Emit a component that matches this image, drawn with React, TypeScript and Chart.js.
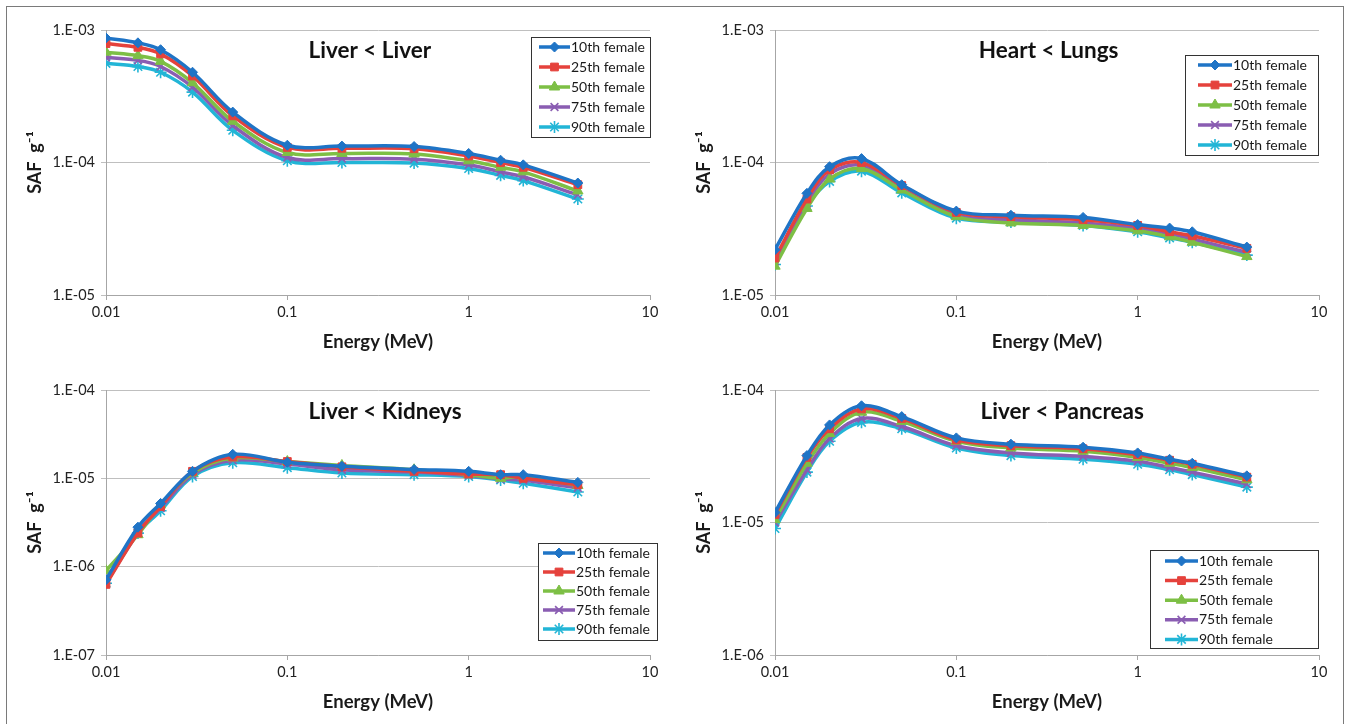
import React, { useEffect, useRef } from "react";
import { Chart, registerables } from "chart.js";
import { drawPoint } from "chart.js/helpers";

Chart.register(...registerables);

// ---------- data ----------
const energies = [0.01, 0.015, 0.02, 0.03, 0.05, 0.1, 0.2, 0.5, 1, 1.5, 2, 4];
const seriesNames = ["10th female", "25th female", "50th female", "75th female", "90th female"];
const xTickValues = [0.01, 0.1, 1, 10];
const xTickLabels = ["0.01", "0.1", "1", "10"];

// Liver < Liver
const liverLiver10 = [8.7e-4, 8.0e-4, 7.1e-4, 4.8e-4, 2.4e-4, 1.35e-4, 1.33e-4, 1.32e-4, 1.17e-4, 1.04e-4, 9.6e-5, 7.0e-5];
const liverLiver25 = [7.9e-4, 7.4e-4, 6.6e-4, 4.5e-4, 2.25e-4, 1.3e-4, 1.28e-4, 1.27e-4, 1.12e-4, 1.0e-4, 9.2e-5, 6.8e-5];
const liverLiver50 = [6.8e-4, 6.4e-4, 5.8e-4, 4.0e-4, 2.05e-4, 1.19e-4, 1.17e-4, 1.16e-4, 1.03e-4, 9.2e-5, 8.5e-5, 6.1e-5];
const liverLiver75 = [6.2e-4, 5.9e-4, 5.3e-4, 3.7e-4, 1.9e-4, 1.09e-4, 1.07e-4, 1.06e-4, 9.6e-5, 8.5e-5, 7.8e-5, 5.7e-5];
const liverLiver90 = [5.6e-4, 5.3e-4, 4.8e-4, 3.4e-4, 1.75e-4, 1.03e-4, 1.0e-4, 9.9e-5, 9.0e-5, 8.0e-5, 7.3e-5, 5.3e-5];
const liverLiverYTicks = [1e-5, 1e-4, 1e-3];
const liverLiverYLabels = ["1.E-05", "1.E-04", "1.E-03"];

// Heart < Lungs
const heartLungs10 = [2.2e-5, 5.85e-5, 9.3e-5, 1.07e-4, 6.8e-5, 4.3e-5, 4.0e-5, 3.85e-5, 3.4e-5, 3.2e-5, 3.0e-5, 2.3e-5];
const heartLungs25 = [1.9e-5, 5.3e-5, 8.8e-5, 1.0e-4, 6.7e-5, 4.2e-5, 3.9e-5, 3.7e-5, 3.35e-5, 3.0e-5, 2.8e-5, 2.25e-5];
const heartLungs50 = [1.65e-5, 4.5e-5, 7.5e-5, 9.0e-5, 6.2e-5, 3.9e-5, 3.5e-5, 3.35e-5, 3.05e-5, 2.75e-5, 2.5e-5, 1.95e-5];
const heartLungs75 = [1.8e-5, 4.9e-5, 8.2e-5, 9.5e-5, 6.3e-5, 4.0e-5, 3.7e-5, 3.5e-5, 3.2e-5, 2.9e-5, 2.65e-5, 2.1e-5];
const heartLungs90 = [1.7e-5, 4.7e-5, 7.2e-5, 8.6e-5, 5.9e-5, 3.8e-5, 3.55e-5, 3.35e-5, 3.0e-5, 2.7e-5, 2.5e-5, 2.0e-5];
const heartLungsYTicks = [1e-5, 1e-4, 1e-3];
const heartLungsYLabels = ["1.E-05", "1.E-04", "1.E-03"];

// Liver < Kidneys
const liverKidneys10 = [7.1e-7, 2.8e-6, 5.2e-6, 1.2e-5, 1.87e-5, 1.52e-5, 1.37e-5, 1.26e-5, 1.2e-5, 1.1e-5, 1.1e-5, 9.0e-6];
const liverKidneys25 = [6.3e-7, 2.4e-6, 4.8e-6, 1.2e-5, 1.75e-5, 1.55e-5, 1.35e-5, 1.2e-5, 1.12e-5, 1.1e-5, 1.0e-5, 8.5e-6];
const liverKidneys50 = [9.0e-7, 2.3e-6, 5.0e-6, 1.15e-5, 1.7e-5, 1.55e-5, 1.4e-5, 1.25e-5, 1.1e-5, 1.0e-5, 1.05e-5, 8.3e-6];
const liverKidneys75 = [7.0e-7, 2.5e-6, 4.6e-6, 1.1e-5, 1.6e-5, 1.45e-5, 1.25e-5, 1.18e-5, 1.08e-5, 9.8e-6, 9.5e-6, 7.8e-6];
const liverKidneys90 = [6.5e-7, 2.4e-6, 4.3e-6, 1.05e-5, 1.5e-5, 1.32e-5, 1.15e-5, 1.1e-5, 1.05e-5, 9.6e-6, 8.8e-6, 7.0e-6];
const liverKidneysYTicks = [1e-7, 1e-6, 1e-5, 1e-4];
const liverKidneysYLabels = ["1.E-07", "1.E-06", "1.E-05", "1.E-04"];

// Liver < Pancreas
const liverPancreas10 = [1.19e-5, 3.2e-5, 5.45e-5, 7.6e-5, 6.3e-5, 4.35e-5, 3.9e-5, 3.7e-5, 3.35e-5, 3.0e-5, 2.8e-5, 2.25e-5];
const liverPancreas25 = [1.15e-5, 3.1e-5, 5.1e-5, 7.2e-5, 6.1e-5, 4.2e-5, 3.8e-5, 3.6e-5, 3.25e-5, 2.95e-5, 2.75e-5, 2.2e-5];
const liverPancreas50 = [1.05e-5, 2.8e-5, 4.7e-5, 6.8e-5, 5.8e-5, 4.1e-5, 3.65e-5, 3.45e-5, 3.1e-5, 2.8e-5, 2.6e-5, 2.1e-5];
const liverPancreas75 = [1.0e-5, 2.5e-5, 4.3e-5, 6.1e-5, 5.3e-5, 3.8e-5, 3.35e-5, 3.15e-5, 2.9e-5, 2.6e-5, 2.4e-5, 1.95e-5];
const liverPancreas90 = [9.0e-6, 2.4e-5, 4.1e-5, 5.7e-5, 5.1e-5, 3.65e-5, 3.2e-5, 3.0e-5, 2.75e-5, 2.5e-5, 2.3e-5, 1.85e-5];
const liverPancreasYTicks = [1e-6, 1e-5, 1e-4];
const liverPancreasYLabels = ["1.E-06", "1.E-05", "1.E-04"];

// ---------- styles ----------
const FONT = "Lato, 'Open Sans', sans-serif";
const seriesStyles = [
  { color: "#1f74c6", pointStyle: "rectRot", radius: 5 },
  { color: "#e5423c", pointStyle: "rect", radius: 5.5 },
  { color: "#7dbf45", pointStyle: "triangle", radius: 6 },
  { color: "#8a5db2", pointStyle: "crossRot", radius: 5.5 },
  { color: "#22b5d6", pointStyle: "star", radius: 6 },
];

const overlayPlugin = {
  id: "overlay",
  afterDraw(chart: any, _args: any, opts: any) {
    const { ctx, chartArea } = chart;
    ctx.save();
    // title
    ctx.font = `bold 22.5px ${FONT}`;
    ctx.fillStyle = "#111";
    ctx.textAlign = "center";
    ctx.textBaseline = "middle";
    ctx.fillText(opts.title, chartArea.left + opts.titleX * chartArea.width, chartArea.top + opts.titleY);
    // legend
    const lg = opts.legend;
    ctx.fillStyle = "#fff";
    ctx.fillRect(lg.x, lg.y, lg.w, lg.h);
    ctx.strokeStyle = "#333";
    ctx.lineWidth = 1;
    ctx.strokeRect(lg.x + 0.5, lg.y + 0.5, lg.w, lg.h);
    chart.data.datasets.forEach((ds: any, i: number) => {
      const y = lg.y + lg.first + i * lg.step;
      ctx.strokeStyle = ds.borderColor;
      ctx.lineWidth = 3.5;
      ctx.beginPath();
      ctx.moveTo(lg.x + lg.l0, y);
      ctx.lineTo(lg.x + lg.l1, y);
      ctx.stroke();
      ctx.fillStyle = ds.pointBackgroundColor;
      ctx.strokeStyle = ds.pointBorderColor;
      ctx.lineWidth = ds.pointBorderWidth;
      drawPoint(ctx, { pointStyle: ds.pointStyle, radius: ds.pointRadius, rotation: 0, borderWidth: ds.pointBorderWidth }, (lg.x + lg.l0 + lg.x + lg.l1) / 2, y);
      ctx.fillStyle = "#1a1a1a";
      ctx.font = `14px ${FONT}`;
      ctx.textAlign = "left";
      ctx.textBaseline = "middle";
      ctx.fillText(ds.label, lg.x + lg.tx, y);
    });
    ctx.restore();
  },
};

type PanelProps = {
  left: number;
  top: number;
  title: string;
  titleX: number;
  titleY: number;
  series: number[][];
  yTicks: number[];
  yLabels: string[];
  legend: any;
};

function Panel(p: PanelProps) {
  const ref = useRef<HTMLCanvasElement>(null);
  useEffect(() => {
    if (!ref.current) return;
    const datasets = p.series.map((vals, i) => {
      const st = seriesStyles[i];
      return {
        label: seriesNames[i],
        data: energies.map((e, j) => ({ x: e, y: vals[j] })),
        borderColor: st.color,
        backgroundColor: st.color,
        pointBackgroundColor: st.color,
        pointBorderColor: st.color,
        pointBorderWidth: st.pointStyle === "crossRot" || st.pointStyle === "star" ? 1.6 : 1,
        pointStyle: st.pointStyle,
        pointRadius: st.radius,
        borderWidth: 3.5,
        tension: 0.35,
        fill: false,
      };
    });
    const chart = new Chart(ref.current, {
      type: "line",
      data: { datasets },
      plugins: [overlayPlugin],
      options: {
        animation: false,
        responsive: false,
        layout: { padding: { top: 20, right: 25, left: 0, bottom: 0 } },
        plugins: {
          legend: { display: false },
          tooltip: { enabled: false },
          overlay: { title: p.title, titleX: p.titleX, titleY: p.titleY, legend: p.legend },
        } as any,
        scales: {
          x: {
            type: "logarithmic",
            min: 0.01,
            max: 10,
            afterBuildTicks: (s: any) => {
              s.ticks = xTickValues.map((v) => ({ value: v }));
            },
            afterFit: (s: any) => {
              s.height = 67;
            },
            ticks: {
              autoSkip: false,
              maxRotation: 0,
              padding: 4,
              color: "#222",
              font: { family: FONT, size: 14.5 },
              callback: (v: any) => {
                const k = xTickValues.findIndex((t) => Math.abs(t - v) < t * 1e-6);
                return k >= 0 ? xTickLabels[k] : "";
              },
            },
            grid: { drawOnChartArea: false, drawTicks: true, tickLength: 5, color: "#a6a6a6" },
            border: { display: true, color: "#a6a6a6", width: 1 },
            title: {
              display: true,
              text: "Energy (MeV)",
              color: "#1a1a1a",
              font: { family: FONT, size: 18.5, weight: "bold" },
              padding: { top: 0, bottom: 9 },
            },
          },
          y: {
            type: "logarithmic",
            min: p.yTicks[0],
            max: p.yTicks[p.yTicks.length - 1],
            afterBuildTicks: (s: any) => {
              s.ticks = p.yTicks.map((v) => ({ value: v }));
            },
            afterFit: (s: any) => {
              s.width = 96;
            },
            ticks: {
              autoSkip: false,
              padding: 6,
              color: "#222",
              font: { family: FONT, size: 14.5 },
              callback: (v: any) => {
                const k = p.yTicks.findIndex((t) => Math.abs(t - v) < t * 1e-6);
                return k >= 0 ? p.yLabels[k] : "";
              },
            },
            grid: { drawOnChartArea: true, drawTicks: true, tickLength: 5, color: "#bfbfbf" },
            border: { display: true, color: "#a6a6a6", width: 1 },
            title: {
              display: true,
              text: "SAF  g\u207B\u00B9",
              color: "#1a1a1a",
              font: { family: FONT, size: 18, weight: "bold" },
              padding: { top: 14, bottom: 0 },
            },
          },
        },
      } as any,
    });
    return () => chart.destroy();
  }, []);
  return (
    <canvas
      ref={ref}
      width={665}
      height={352}
      style={{ position: "absolute", left: p.left, top: p.top, width: 665, height: 352 }}
    />
  );
}

export default function App() {
  return (
    <div
      style={{
        position: "absolute",
        left: 0,
        top: 0,
        width: 1352,
        height: 724,
        overflow: "hidden",
        background: "#fff",
      }}
    >
      <div
        style={{
          position: "absolute",
          left: 6,
          top: 6,
          width: 1336,
          height: 760,
          border: "1.5px solid #7a7a7a",
        }}
      />
      <Panel
        left={10}
        top={10}
        title="Liver < Liver"
        titleX={0.485}
        titleY={21}
        series={[liverLiver10, liverLiver25, liverLiver50, liverLiver75, liverLiver90]}
        yTicks={liverLiverYTicks}
        yLabels={liverLiverYLabels}
        legend={{ x: 521, y: 27, w: 119, h: 100, first: 10, step: 20, l0: 8, l1: 39, tx: 40 }}
      />
      <Panel
        left={679}
        top={10}
        title="Heart < Lungs"
        titleX={0.503}
        titleY={21}
        series={[heartLungs10, heartLungs25, heartLungs50, heartLungs75, heartLungs90]}
        yTicks={heartLungsYTicks}
        yLabels={heartLungsYLabels}
        legend={{ x: 506, y: 45, w: 133, h: 100, first: 10, step: 20, l0: 13, l1: 47, tx: 48 }}
      />
      <Panel
        left={10}
        top={370}
        title="Liver < Kidneys"
        titleX={0.513}
        titleY={22}
        series={[liverKidneys10, liverKidneys25, liverKidneys50, liverKidneys75, liverKidneys90]}
        yTicks={liverKidneysYTicks}
        yLabels={liverKidneysYLabels}
        legend={{ x: 528, y: 173, w: 119, h: 97, first: 10, step: 19, l0: 5, l1: 37, tx: 38 }}
      />
      <Panel
        left={679}
        top={370}
        title="Liver < Pancreas"
        titleX={0.528}
        titleY={22}
        series={[liverPancreas10, liverPancreas25, liverPancreas50, liverPancreas75, liverPancreas90]}
        yTicks={liverPancreasYTicks}
        yLabels={liverPancreasYLabels}
        legend={{ x: 471, y: 180, w: 168, h: 98, first: 11, step: 19.6, l0: 15, l1: 48, tx: 49 }}
      />
    </div>
  );
}
